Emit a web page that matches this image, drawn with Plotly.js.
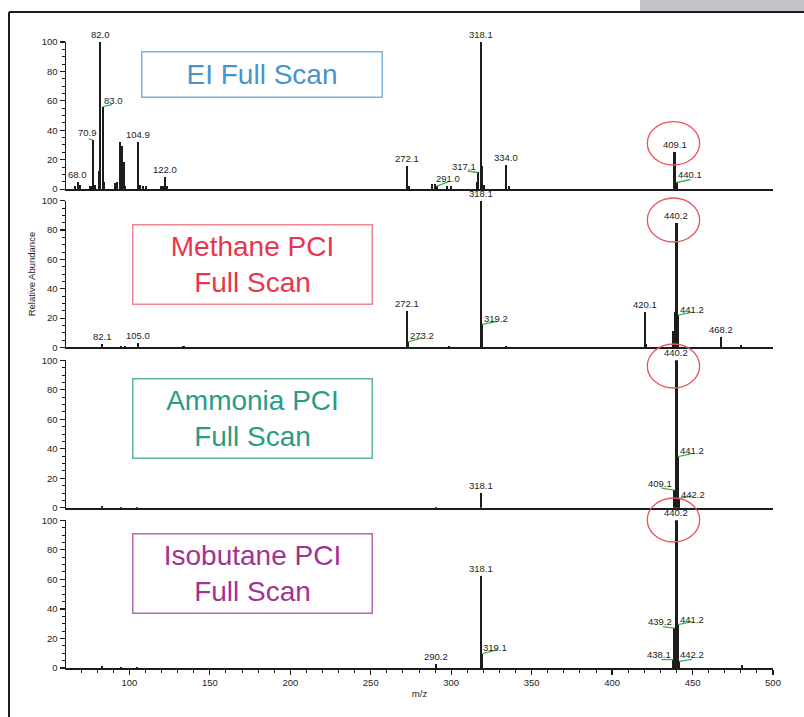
<!DOCTYPE html>
<html>
<head>
<meta charset="utf-8">
<script src="https://cdn.plot.ly/plotly-3.0.1.min.js"></script>
<style>html,body{margin:0;padding:0;background:#fff;}#chart{width:804px;height:717px;}</style>
</head>
<body>
<div id="chart"></div>
<script>
// ---------------- data ----------------
const mzRange = [60.6, 500];

// EI full scan
const eiMz  = [66.4, 67.9, 69.1, 75.8, 77.2, 78.9, 81.3, 82.0, 83.4, 84.3, 91.3, 92.4, 94.4, 95.5, 96.5, 97.5, 105.4, 106.8, 108.3, 110.4, 119.7, 121.0, 121.9, 123.4, 272.6, 273.6, 288.2, 289.8, 291.0, 297.5, 299.6, 316.0, 316.5, 318.6, 319.4, 320.4, 334.0, 335.8, 438.8, 440.0];
const eiInt = [2, 4.5, 2.5, 2, 33.4, 3, 12.6, 100, 56, 5, 4, 4.5, 32, 29, 18.7, 2, 32.2, 3, 2, 2, 2, 2, 7.9, 2, 16, 2, 3.4, 3.4, 2, 2, 2, 5, 11.3, 100, 15.8, 3, 16.5, 2, 25, 4.5];
const eiLabelMz   = [67.9, 77.2, 82.0, 83.4, 105.4, 121.9, 272.6, 291.0, 316.5, 318.6, 334.0, 438.8, 440.0];
const eiLabelText = ["68.0", "70.9", "82.0", "83.0", "104.9", "122.0", "272.1", "291.0", "317.1", "318.1", "334.0", "409.1", "440.1"];

// Methane PCI full scan
const meMz  = [83.0, 95.0, 97.0, 105.4, 133.6, 272.6, 273.2, 298.5, 318.6, 319.3, 333.8, 420.2, 421.2, 438.0, 439.0, 440.0, 441.1, 467.8, 479.9];
const meInt = [2.2, 1, 1, 3, 1, 25, 3.8, 1, 100, 15.7, 1, 24.3, 2.7, 11, 24.3, 84.6, 22, 7.2, 1.6];
const meLabelMz   = [83.0, 105.4, 272.6, 273.2, 318.6, 319.3, 420.2, 440.0, 441.1, 467.8];
const meLabelText = ["82.1", "105.0", "272.1", "273.2", "318.1", "319.2", "420.1", "440.2", "441.2", "468.2"];

// Ammonia PCI full scan
const amMz  = [83.0, 95.0, 105.0, 290.7, 318.6, 438.8, 440.0, 440.9, 441.8];
const amInt = [1, 0.8, 0.8, 0.8, 9.8, 12, 100, 34.6, 6.4];
const amLabelMz   = [318.6, 440.0, 440.9, 438.8, 441.8];
const amLabelText = ["318.1", "440.2", "441.2", "409.1", "442.2"];

// Isobutane PCI full scan
const isMz  = [83.0, 95.0, 105.0, 290.7, 318.6, 319.4, 438.0, 438.8, 440.0, 440.9, 441.7, 480.5];
const isInt = [1.5, 1, 1, 2.7, 62.6, 9.7, 5.6, 27, 100, 29.3, 4.5, 2];
const isLabelMz   = [290.7, 318.6, 319.4, 438.8, 440.0, 440.9, 438.0, 441.7];
const isLabelText = ["290.2", "318.1", "319.1", "439.2", "440.2", "441.2", "438.1", "442.2"];

const panelTitles = ["EI Full Scan", "Methane PCI<br>Full Scan", "Ammonia PCI<br>Full Scan", "Isobutane PCI<br>Full Scan"];
const xTickVals = [100, 150, 200, 250, 300, 350, 400, 450, 500];
const yTickVals = [0, 20, 40, 60, 80, 100];

// ---------------- styling (label placement offsets, px) ----------------
// null = label centered above the peak; [textDx, textDy, lineDx, lineDy] = offset label with green leader
const eiLabelStyle = [null, [-5, 7, -4, 1], null, [10.5, 6, 9.5, 2], null, null, null, [11, 8, 12, 4.5], [-14, 6, -10, 1.5], null, null, null, [13.8, 7.7, 14, 3]];
const meLabelStyle = [null, null, null, [13.7, 6, 14, 4], null, [13.3, 5.6, 15, 3], null, null, [13.6, 5.5, 14, 3], null];
const amLabelStyle = [null, null, [14.3, 6.2, 14, 3], [-14.5, 7, -13, 2], [13.8, 4, 13, 2.5]];
const isLabelStyle = [null, null, [13, 6, 15, 4], [-14.5, 6.3, -12, 1.5], null, [14, 5.5, 14, 3], [-14.7, 5, -12, 0], [13.3, 6.4, 13, 2]];

const boxColors   = ["#4a93cc", "#e8354d", "#2a9c84", "#a3338f"];
const boxBorders  = ["#7db3dc", "#f18591", "#5db5a1", "#bd64ae"];
const GREEN = "#3fb34f";
const INK = "#1c1c1c";
const FONT = "Liberation Sans, Arial, sans-serif";
const SMALL = 9.5;

// ---------------- geometry ----------------
const W = 804, H = 717, ML = 66, MR = 31, MT = 42, MB = 49;
const PW = W - ML - MR, PH = H - MT - MB;
const px2paperX = p => (p - ML) / PW;
const px2paperY = p => (H - MB - p) / PH;
const domains = [[0.765, 1.0], [0.512, 0.7465], [0.256, 0.4915], [0.0, 0.236]];
const boxPx = [[261.5, 75, 239, 44], [253, 264, 238, 78], [253, 418, 238, 78], [253, 573, 238, 78]];
const circlePaperY = [[0.8035, 0.8727], [0.6805, 0.7508], [0.4473, 0.5176], [0.2013, 0.2716]];

const spectra = [
  {mz: eiMz, it: eiInt, lm: eiLabelMz, lt: eiLabelText, ls: eiLabelStyle},
  {mz: meMz, it: meInt, lm: meLabelMz, lt: meLabelText, ls: meLabelStyle},
  {mz: amMz, it: amInt, lm: amLabelMz, lt: amLabelText, ls: amLabelStyle},
  {mz: isMz, it: isInt, lm: isLabelMz, lt: isLabelText, ls: isLabelStyle}
];

function intensityAt(mzArr, itArr, m) {
  let best = 0, bd = Infinity;
  mzArr.forEach((v, i) => { const d = Math.abs(v - m); if (d < bd) { bd = d; best = i; } });
  return itArr[best];
}

const traces = [], annotations = [], shapes = [];
const layout = {
  width: W, height: H,
  margin: {l: ML, r: MR, t: MT, b: MB, pad: 0},
  paper_bgcolor: "#fff", plot_bgcolor: "#fff",
  showlegend: false,
  font: {family: FONT, size: SMALL, color: INK},
  bargap: 0
};

spectra.forEach((s, k) => {
  const n = k + 1;
  const xa = "x" + (n === 1 ? "" : n), ya = "y" + (n === 1 ? "" : n);
  const xKey = "xaxis" + (n === 1 ? "" : n), yKey = "yaxis" + (n === 1 ? "" : n);
  traces.push({
    type: "bar", x: s.mz, y: s.it, xaxis: xa, yaxis: ya,
    width: 1.3, marker: {color: INK, line: {width: 0}}, hoverinfo: "x+y"
  });
  const isBottom = n === 4;
  layout[xKey] = {
    domain: [0, 1], anchor: ya, range: mzRange, fixedrange: true,
    showgrid: false, zeroline: false, showline: true, linecolor: INK, linewidth: 2,
    ticks: isBottom ? "outside" : "", ticklen: 5, tickwidth: 1.2, tickcolor: INK,
    tickvals: isBottom ? xTickVals : [], showticklabels: isBottom,
    tickfont: {family: FONT, size: SMALL, color: INK},
    minor: isBottom ? {ticks: "outside", dtick: 10, tick0: 0, ticklen: 3, tickwidth: 1, tickcolor: INK} : undefined,
    automargin: false,
    title: isBottom ? {text: "m/z", font: {family: FONT, size: SMALL, color: INK}, standoff: 3} : undefined
  };
  if (n > 1) layout[xKey].matches = "x";
  layout[yKey] = {
    domain: domains[k], anchor: xa, range: [0, 100], fixedrange: true,
    showgrid: false, zeroline: false, showline: true, linecolor: INK, linewidth: 1.5,
    ticks: "outside", ticklen: 5, tickwidth: 1.2, tickcolor: INK, tickvals: yTickVals,
    minor: {ticks: "outside", dtick: 5, tick0: 0, ticklen: 3, tickwidth: 1, tickcolor: INK},
    tickfont: {family: FONT, size: SMALL, color: INK}, automargin: false,
    title: n === 2 ? {text: "Relative Abundance", font: {family: FONT, size: SMALL, color: INK}, standoff: 4} : undefined
  };

  // peak labels
  s.lm.forEach((m, i) => {
    const y = intensityAt(s.mz, s.it, m);
    const st = s.ls[i];
    const base = {x: m, y: y, xref: xa, yref: ya, text: s.lt[i], showarrow: false,
                  font: {family: FONT, size: SMALL, color: INK}};
    if (!st) {
      annotations.push(Object.assign(base, {xanchor: "center", yanchor: "bottom", yshift: 0}));
    } else {
      annotations.push(Object.assign(base, {xanchor: "center", yanchor: "middle", xshift: st[0], yshift: st[1]}));
      shapes.push({type: "line", xref: xa, yref: ya, xsizemode: "pixel", ysizemode: "pixel",
                   xanchor: m, yanchor: y, x0: 0, y0: 0, x1: st[2], y1: st[3],
                   line: {color: GREEN, width: 1.3}});
    }
  });

  // title box
  const b = boxPx[k];
  annotations.push({
    xref: "paper", yref: "paper", x: px2paperX(b[0]), y: px2paperY(b[1]),
    xanchor: "center", yanchor: "middle", showarrow: false,
    text: panelTitles[k], width: b[2], height: b[3], align: "center", valign: "middle",
    bordercolor: boxBorders[k], borderwidth: 1.5, borderpad: 0, bgcolor: "rgba(255,255,255,0)",
    font: {family: FONT, size: 28, color: boxColors[k]}
  });

  // red circle around the 440 region
  shapes.push({type: "circle", xref: xa, yref: "paper", x0: 421.9, x1: 454.4,
               y0: circlePaperY[k][0], y1: circlePaperY[k][1],
               line: {color: "#e85560", width: 1.3}});
});

// frame and grey tab
shapes.push({type: "rect", xref: "paper", yref: "paper", x0: px2paperX(640), x1: px2paperX(806),
             y0: px2paperY(11.5), y1: px2paperY(-2), fillcolor: "#c3c3c7", line: {width: 0}, layer: "below"});
shapes.push({type: "line", xref: "paper", yref: "paper", x0: px2paperX(9), x1: px2paperX(806),
             y0: px2paperY(12), y1: px2paperY(12), line: {color: INK, width: 2}});
shapes.push({type: "line", xref: "paper", yref: "paper", x0: px2paperX(9), x1: px2paperX(9),
             y0: px2paperY(12), y1: px2paperY(720), line: {color: INK, width: 2}});

layout.annotations = annotations;
layout.shapes = shapes;

Plotly.newPlot("chart", traces, layout, {displayModeBar: false, staticPlot: true});
</script>
</body>
</html>
